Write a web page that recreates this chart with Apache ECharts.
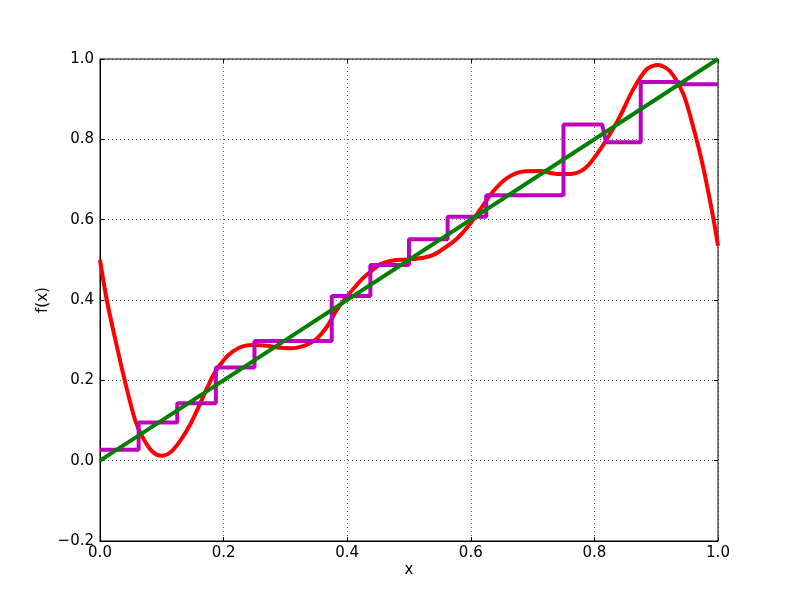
<!DOCTYPE html>
<html>
<head>
<meta charset="utf-8">
<script src="https://cdn.jsdelivr.net/npm/echarts@6/dist/echarts.min.js"></script>
<style>html,body{margin:0;padding:0;background:#fff}#c{width:800px;height:602px}</style>
</head>
<body>
<div id="c"></div>
<script>
// Red curve
var redX = [0.000,0.011,0.025,0.040,0.057,0.070,0.085,0.100,0.115,0.130,0.146,0.160,0.173,0.186,0.200,0.215,0.232,0.250,0.270,0.291,0.310,0.330,0.345,0.358,0.370,0.383,0.395,0.410,0.426,0.442,0.455,0.470,0.485,0.500,0.523,0.540,0.555,0.577,0.599,0.615,0.636,0.658,0.685,0.712,0.739,0.761,0.777,0.790,0.805,0.820,0.841,0.863,0.885,0.903,0.922,0.944,0.960,0.976,0.992,1.000];
var redY = [0.500,0.400,0.300,0.200,0.100,0.055,0.022,0.012,0.022,0.050,0.090,0.135,0.180,0.220,0.250,0.272,0.285,0.288,0.286,0.281,0.280,0.286,0.297,0.315,0.340,0.375,0.400,0.428,0.455,0.476,0.490,0.497,0.500,0.501,0.505,0.513,0.527,0.552,0.590,0.625,0.670,0.703,0.720,0.721,0.714,0.714,0.720,0.735,0.765,0.800,0.856,0.925,0.975,0.985,0.970,0.912,0.830,0.731,0.607,0.535];
// Green line
var greenX = [0, 1];
var greenY = [0, 1];
// Magenta step line
var stepX = [0,0.0625,0.0625,0.125,0.125,0.1875,0.1875,0.25,0.25,0.375,0.375,0.4375,0.4375,0.5,0.5,0.5625,0.5625,0.625,0.625,0.75,0.75,0.8125,0.819,0.875,0.875,0.936,0.941,1.0];
var stepY = [0.027,0.027,0.095,0.095,0.143,0.143,0.232,0.232,0.298,0.298,0.410,0.410,0.487,0.487,0.551,0.551,0.607,0.607,0.661,0.661,0.837,0.837,0.793,0.793,0.943,0.943,0.937,0.937];
// Ticks
var xTicks = [0.0,0.2,0.4,0.6,0.8,1.0];
var yTicks = [-0.2,0.0,0.2,0.4,0.6,0.8,1.0];

function zip(a,b){return a.map(function(v,i){return [v,b[i]];});}
function fmt(v){return v.toFixed(1).replace('-', '\u2212');}

var chart = echarts.init(document.getElementById('c'), null, {renderer:'canvas'});
var font = 'DejaVu Sans';
var tickCommon = {show:true, inside:true, length:4, lineStyle:{color:'#000', width:1}};
chart.setOption({
  animation:false,
  backgroundColor:'#fff',
  grid:{left:100, right:82, top:59, bottom:61, show:true, borderColor:'#000', borderWidth:1, backgroundColor:'transparent'},
  xAxis:[{
    type:'value', min:xTicks[0], max:xTicks[xTicks.length-1], interval:0.2,
    name:'x', nameLocation:'middle', nameGap:22, nameMoveOverlap:false,
    nameTextStyle:{fontFamily:font, fontSize:15, color:'#000'},
    axisLine:{show:true, onZero:false, lineStyle:{color:'#000', width:1}},
    axisTick:tickCommon,
    axisLabel:{formatter:fmt, fontFamily:font, fontSize:15, color:'#000', margin:5},
    splitLine:{show:true, lineStyle:{color:'#000', width:0.6, type:[1,3]}}
  },{
    type:'value', position:'top', min:xTicks[0], max:xTicks[xTicks.length-1], interval:0.2,
    axisLine:{show:false, onZero:false}, axisTick:tickCommon, axisLabel:{show:false}, splitLine:{show:false}
  }],
  yAxis:[{
    type:'value', min:yTicks[0], max:yTicks[yTicks.length-1], interval:0.2,
    name:'f(x)', nameLocation:'middle', nameGap:49, nameRotate:90, nameMoveOverlap:false,
    nameTextStyle:{fontFamily:font, fontSize:15, color:'#000'},
    axisLine:{show:true, onZero:false, lineStyle:{color:'#000', width:1}},
    axisTick:tickCommon,
    axisLabel:{formatter:fmt, fontFamily:font, fontSize:15, color:'#000', margin:6},
    splitLine:{show:true, lineStyle:{color:'#000', width:0.6, type:[1,3]}}
  },{
    type:'value', position:'right', min:yTicks[0], max:yTicks[yTicks.length-1], interval:0.2,
    axisLine:{show:false, onZero:false}, axisTick:tickCommon, axisLabel:{show:false}, splitLine:{show:false}
  }],
  series:[
    {type:'line', data:zip(redX,redY), showSymbol:false, smooth:0.3, clip:true, z:2,
     lineStyle:{color:'#ff0000', width:4}},
    {type:'line', data:zip(stepX,stepY), showSymbol:false, z:3, clip:true,
     lineStyle:{color:'#bf00bf', width:4}},
    {type:'line', data:zip(greenX,greenY), showSymbol:false, z:4, clip:true,
     lineStyle:{color:'#008000', width:4}}
  ]
});
</script>
</body>
</html>
